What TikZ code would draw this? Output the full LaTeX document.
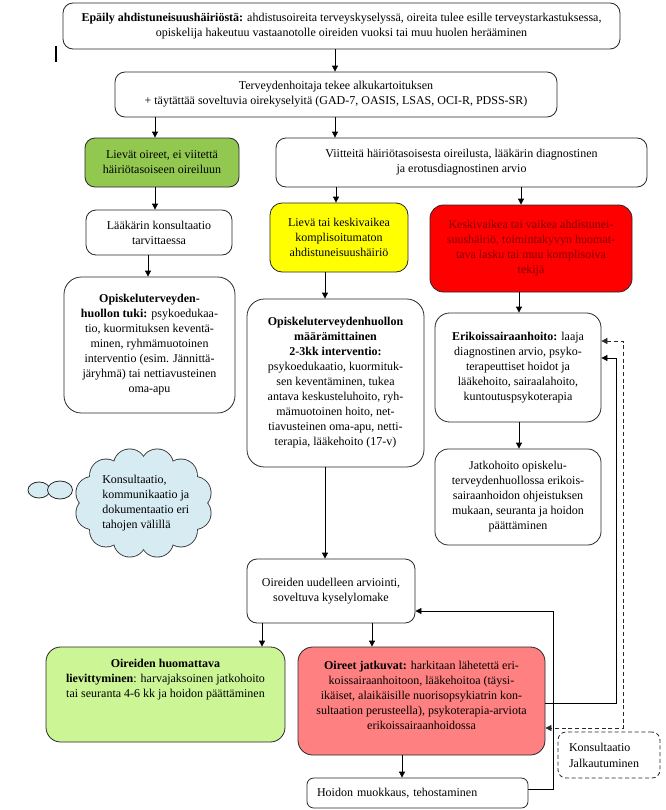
\documentclass[tikz,border=0pt]{standalone}
\usepackage{fontspec}
\setmainfont{Liberation Serif}
\usetikzlibrary{arrows.meta,shapes.geometric}
\definecolor{gA}{RGB}{146,200,80}
\definecolor{yA}{RGB}{255,255,0}
\definecolor{rA}{RGB}{255,0,0}
\definecolor{rT}{RGB}{130,0,0}
\definecolor{lgA}{RGB}{204,245,150}
\definecolor{pA}{RGB}{255,128,128}
\definecolor{cA}{RGB}{215,235,243}
\definecolor{lnA}{RGB}{40,40,40}
\begin{document}
\begin{tikzpicture}[x=0.75pt,y=-0.75pt,
  every node/.style={font=\fontsize{9pt}{11.25pt}\selectfont},
  bx/.style={draw=lnA, line width=0.6pt, rounded corners=#1, align=center, inner sep=0pt},
  bx/.default=7.5pt,
  arr/.style={draw=black, line width=0.6pt, -{Triangle[length=4.5pt,width=4.5pt]}},
  dsh/.style={draw=lnA, line width=0.6pt, dash pattern=on 3pt off 2pt, {Triangle[length=4.5pt,width=4.5pt]}-{Triangle[length=4.5pt,width=4.5pt]}},
  bub/.style={draw=lnA, fill=cA, line width=0.6pt, inner sep=0pt}
]
\fill[white] (0,0) rectangle (666,810);
\useasboundingbox (0,0) rectangle (666,810);

% marker
\draw[line width=1.2pt] (56,46) -- (56,62);

\node[bx, minimum width=417.75pt, minimum height=34.5pt] (t) at (341.5,26)
 {\textbf{Epäily ahdistuneisuushäiriöstä:} ahdistusoireita terveyskyselyssä, oireita tulee esille terveystarkastuksessa,\\opiskelija hakeutuu vastaanotolle oireiden vuoksi tai muu huolen herääminen};

\node[bx, minimum width=331.5pt, minimum height=33.75pt] (b2) at (336,94.5)
 {Terveydenhoitaja tekee alkukartoituksen\\+ täytättää soveltuvia oirekyselyitä (GAD-7, OASIS, LSAS, OCI-R, PDSS-SR)};

\node[bx, fill=gA, minimum width=115.5pt, minimum height=36.75pt] (g) at (162,162.5)
 {Lievät oireet, ei viitettä\\häiriötasoiseen oireiluun};

\node[bx, minimum width=278.25pt, minimum height=36.75pt] (v) at (461.5,162.5)
 {Viitteitä häiriötasoisesta oireilusta, lääkärin diagnostinen\\ja erotusdiagnostinen arvio};

\node[bx, minimum width=109.5pt, minimum height=33.75pt] (l) at (159,232.5)
 {Lääkärin konsultaatio\\tarvittaessa};

\node[bx=13pt, minimum width=128.25pt, minimum height=102pt] (o1) at (149.5,345)
 {\textbf{Opiskeluterveyden-}\\\textbf{huollon tuki:} psykoedukaa-\\tio, kuormituksen keventä-\\minen, ryhmämuotoinen\\interventio (esim. Jännittä-\\järyhmä) tai nettiavusteinen\\oma-apu};

\node[bx=9pt, fill=yA, minimum width=103.5pt, minimum height=51.75pt] (y) at (339,237.5)
 {Lievä tai keskivaikea\\komplisoitumaton\\ahdistuneisuushäiriö};

\node[bx=10pt, fill=rA, text=rT, minimum width=151.5pt, minimum height=65.25pt] (r) at (531,248.5)
 {Keskivaikea tai vaikea ahdistunei-\\suushäiriö, toimintakyvyn huomat-\\tava lasku tai muu komplisoiva\\tekijä};

\node[bx=13pt, minimum width=132.75pt, minimum height=126pt] (m) at (335.5,383)
 {\textbf{Opiskeluterveydenhuollon}\\\textbf{määrämittainen}\\\textbf{2-3kk interventio:}\\psykoedukaatio, kuormituk-\\sen keventäminen, tukea\\antava keskusteluhoito, ryh-\\mämuotoinen hoito, net-\\tiavusteinen oma-apu, netti-\\terapia, lääkehoito (17-v)};

\node[bx=11pt, minimum width=124.5pt, minimum height=81.75pt] (e) at (518,367.5)
 {\textbf{Erikoissairaanhoito:} laaja\\diagnostinen arvio, psyko-\\terapeuttiset hoidot ja\\lääkehoito, sairaalahoito,\\kuntoutuspsykoterapia};

\node[bx=10pt, minimum width=124.5pt, minimum height=72pt] (j) at (518,497)
 {Jatkohoito opiskelu-\\terveydenhuollossa erikois-\\sairaanhoidon ohjeistuksen\\mukaan, seuranta ja hoidon\\päättäminen};

% cloud (drawn directly: outline of a union of puffs)
\foreach \a in {15,45,...,345}
  \draw[lnA, line width=1.2pt] ({143.5+53*cos(\a)},{503+39*sin(\a)}) circle[radius=16];
\foreach \a in {15,45,...,345}
  \fill[cA] ({143.5+53*cos(\a)},{503+39*sin(\a)}) circle[radius=16];
\fill[cA] (143.5,503) ellipse[x radius=53, y radius=39];
\node[bub, ellipse, minimum width=16.5pt, minimum height=12pt] (b1) at (39,490) {};
\node[bub, ellipse, minimum width=18.75pt, minimum height=13.5pt] (b2b) at (60,490) {};
\node[anchor=west, align=left, inner sep=0pt] (clt) at (102,503.5)
 {Konsultaatio,\\kommunikaatio ja\\dokumentaatio eri\\tahojen välillä};

\node[bx, minimum width=126pt, minimum height=48pt] (u) at (331,591)
 {Oireiden uudelleen arviointi,\\soveltuva kyselylomake};

\node[bx=11pt, fill=lgA, minimum width=179.25pt, minimum height=71.25pt] (lg) at (165.5,694.5) {};
\node[align=center, inner sep=0pt] (lgt) at (165.5,680)
 {\textbf{Oireiden huomattava}\\\textbf{lievittyminen}: harvajaksoinen jatkohoito\\tai seuranta 4-6 kk ja hoidon päättäminen};

\node[bx=11pt, fill=pA, minimum width=185.25pt, minimum height=81pt] (p) at (421.5,701) {};
\node[align=center, inner sep=0pt] (pt) at (421.5,695.5)
 {\textbf{Oireet jatkuvat:} harkitaan lähetettä eri-\\koissairaanhoitoon, lääkehoitoa (täysi-\\ikäiset, alaikäisille nuorisopsykiatrin kon-\\sultaation perusteella), psykoterapia-arviota\\erikoissairaanhoidossa};

\node[draw=lnA, line width=0.6pt, rounded corners=5pt, minimum width=165.75pt, minimum height=22.5pt, inner xsep=7.5pt, inner ysep=0pt, text width=150.75pt, align=left] (h) at (417.5,793)
 {Hoidon muokkaus, tehostaminen};

\node[draw=lnA, line width=0.6pt, dash pattern=on 3pt off 2pt, rounded corners=6pt, minimum width=76.5pt, minimum height=34.5pt, inner xsep=8.25pt, inner ysep=0pt, text width=60pt, align=left, font=\fontsize{9pt}{12pt}\selectfont] (k) at (609,755)
 {Konsultaatio\\Jalkautuminen};

% connectors
\draw[arr] (t.south -| 335,0) -- (b2.north -| 335,0);
\draw[arr] (b2.south -| 155,0) -- (g.north -| 155,0);
\draw[arr] (b2.south -| 335,0) -- (v.north -| 335,0);
\draw[arr] (g.south -| 155,0) -- (l.north -| 155,0);
\draw[arr] (l.south -| 148,0) -- (o1.north -| 148,0);
\draw[arr] (v.south -| 336,0) -- (y.north -| 336,0);
\draw[arr] (v.south -| 521,0) -- (r.north -| 521,0);
\draw[arr] (y.south -| 325,0) -- (m.north -| 325,0);
\draw[arr] (r.south -| 519,0) -- (e.north -| 519,0);
\draw[arr] (e.south -| 519,0) -- (j.north -| 519,0);
\draw[arr] (m.south -| 325,0) -- (u.north -| 325,0);
\draw[arr] (u.south -| 262,0) -- (lg.north -| 262,0);
\draw[arr] (u.south -| 372,0) -- (p.north -| 372,0);
\draw[arr] (p.south -| 402,0) -- (h.north -| 402,0);
\draw[arr] (h.east |- 0,789) -| (553,611) -- (u.east |- 0,611);
\draw[arr] (p.east |- 0,703) -| (616,358) -- (e.east |- 0,358);
\draw[dsh] (e.east |- 0,341) -| (623,728) -- (p.east |- 0,728);
\end{tikzpicture}
\end{document}
